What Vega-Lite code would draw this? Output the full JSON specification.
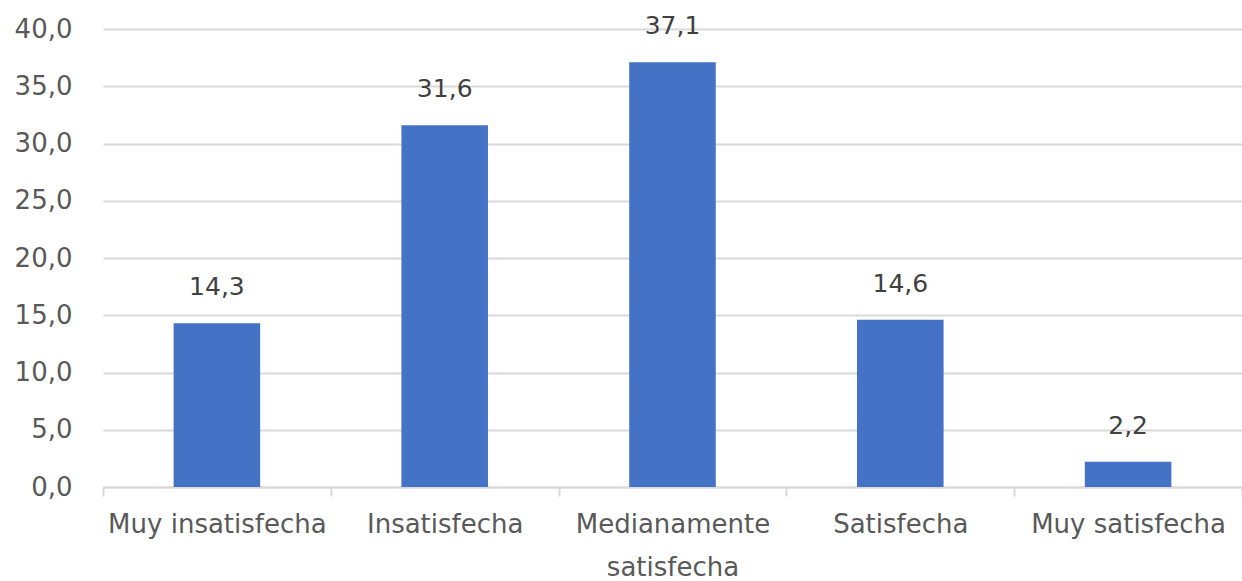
{
  "$schema": "https://vega.github.io/schema/vega-lite/v6.json",
  "width": 1139,
  "height": 458,
  "autosize": {"type": "none"},
  "padding": {"left": 103, "top": 29, "right": 0, "bottom": 94},
  "background": "white",
  "config": {"view": {"stroke": null}, "font": "DejaVu Sans"},
  "data": {"values": [
    {"cat": "Muy insatisfecha", "val": 14.3},
    {"cat": "Insatisfecha", "val": 31.6},
    {"cat": "Medianamente satisfecha", "val": 37.1},
    {"cat": "Satisfecha", "val": 14.6},
    {"cat": "Muy satisfecha", "val": 2.2}
  ]},
  "encoding": {
    "x": {"field": "cat", "type": "nominal", "sort": null,
      "scale": {"paddingInner": 0, "paddingOuter": 0},
      "axis": {"title": null, "labelAngle": 0, "labelFontSize": 26, "labelColor": "#595959",
        "labelFont": "DejaVu Sans", "labelPadding": 15, "labelLimit": 300,
        "labelExpr": "datum.label == 'Medianamente satisfecha' ? ['Medianamente', 'satisfecha'] : datum.label",
        "labelLineHeight": 43,
        "domainColor": "#d9d9d9", "domainWidth": 2, "ticks": true, "tickColor": "#d9d9d9", "tickWidth": 2, "tickSize": 9,
        "tickBand": "extent", "grid": false}},
    "y": {"field": "val", "type": "quantitative",
      "scale": {"domain": [0, 40], "nice": false},
      "axis": {"title": null, "values": [0, 5, 10, 15, 20, 25, 30, 35, 40],
        "labelExpr": "replace(format(datum.value, '.1f'), '.', ',')",
        "labelFontSize": 26, "labelColor": "#595959", "labelFont": "DejaVu Sans", "labelPadding": 31,
        "domain": false, "ticks": false, "gridColor": "#d9d9d9", "gridWidth": 2}}
  },
  "layer": [
    {"mark": {"type": "bar", "color": "#4472C4", "width": {"band": 0.38}}},
    {"mark": {"type": "text", "baseline": "alphabetic", "dy": -28, "fontSize": 25, "color": "#404040", "font": "DejaVu Sans"},
      "encoding": {"text": {"field": "lbl", "type": "nominal"}},
      "transform": [{"calculate": "replace(format(datum.val, '.1f'), '.', ',')", "as": "lbl"}]}
  ]
}
